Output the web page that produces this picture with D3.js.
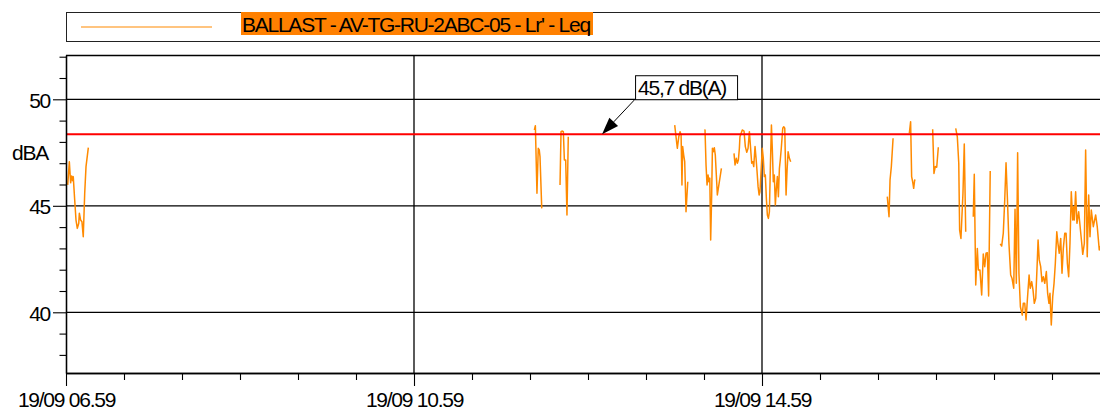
<!DOCTYPE html>
<html><head><meta charset="utf-8">
<script src="https://cdn.jsdelivr.net/npm/d3@7"></script>
<style>
html,body{margin:0;padding:0;background:#fff;}
svg{display:block;font-family:"Liberation Sans",Arial,sans-serif;}
</style></head><body>
<svg id="chart" width="1100" height="410"></svg>
<script>
// ---------- data ----------
const seriesName = "BALLAST - AV-TG-RU-2ABC-05 - Lr' - Leq";
const unitLabel = "dBA";
const startTime = new Date(2019, 8, 19, 6, 59);
const endTime = new Date(2019, 8, 19, 18, 59);
const yDomain = [37.15, 52.08];
const yMajorTicks = [40, 45, 50];
const yMinorTicks = [38, 39, 41, 42, 43, 44, 46, 47, 48, 49, 51, 52];
const xMajorTickHours = [0, 4, 8];          // 06.59, 10.59, 14.59
const xMinorStepMinutes = 40;
const thresholdValue = 48.36;
const thresholdLabel = "45,7 dB(A)";
const annotationMinute = 369.7;

// minutes after 19/09 06.59 ; null value = gap in measurement
const leqMinutes = [
  1.2,2.3,3.2,3.9,4.6,5.0,6.0,6.9,7.8,8.8,9.2,10.1,11.0,11.9,12.9,13.8,15.4,
  100,
  323.0,323.7,324.8,325.7,326.4,326.9,328.1,
  334,
  340.7,341.4,342.3,343.0,343.7,344.6,345.5,346.4,
  400,
  419.8,421.6,422.6,423.5,424.2,424.8,425.3,426.0,426.7,427.6,428.8,
  435,
  440.2,440.7,441.4,442.1,442.8,443.3,444.0,444.6,445.3,445.8,446.4,447.1,447.8,448.5,449.2,450.6,452.0,
  456,
  460.7,461.4,462.3,463.0,463.7,464.4,464.8,466.4,467.6,468.5,469.5,470.4,471.3,
  472.9,473.6,474.3,475.2,475.9,476.6,477.3,478.0,478.6,480.2,480.9,481.6,482.3,483.0,483.7,484.4,485.1,485.8,
  486.5,487.1,487.8,488.5,489.2,489.9,490.6,491.3,492.0,492.6,493.3,494.3,495.0,495.7,496.6,497.3,498.0,498.9,499.8,
  530,
  566.4,567.6,568.3,569.2,570.4,
  575,
  581.6,582.5,583.2,583.9,584.6,585.3,585.8,
  590,
  597.7,598.6,599.5,600.5,601.6,
  608,
  613.6,614.7,615.7,616.3,617.2,618.6,619.5,620.5,
  623,
  625.7,626.4,627.4,628.5,629.2,630.3,631.5,632.6,633.6,634.5,635.4,636.3,637.4,
  640,
  644.3,645.3,646.4,647.4,648.3,649.2,650.3,651.5,652.4,653.6,654.5,655.4,656.3,657.2,658.2,659.5,660.2,661.2,
  662.1,663.0,664.2,665.0,666.0,666.9,667.8,668.8,669.7,670.4,671.2,672.2,673.1,674.0,675.0,676.1,677.0,677.9,
  678.6,679.5,680.5,681.4,682.3,683.3,684.1,685.0,686.0,686.9,687.8,688.8,689.7,690.6,691.5,692.4,693.3,694.3,
  695.0,695.4,696.3,697.2,698.4,700.5,701.2,702.3,703.2,704.3,705.3,706.2,707.1,708.5,710.1,711.2,712.6,713.8
];
const leqValues = [
  45.98,47.07,46.08,46.40,46.18,46.37,45.27,44.33,43.94,44.18,44.65,44.33,44.25,43.55,45.59,46.84,47.73,
  null,
  48.56,48.76,45.59,47.70,47.62,47.31,44.88,
  null,
  45.98,48.48,48.51,48.48,47.15,47.15,44.57,48.24,
  null,
  48.79,47.70,48.24,48.48,48.32,45.98,47.78,47.38,47.07,44.72,46.13,
  null,
  48.56,48.56,46.92,45.98,46.45,46.13,46.30,43.39,45.51,47.70,47.54,47.73,47.38,46.45,45.51,46.13,46.76,
  null,
  47.46,46.92,47.23,47.00,47.15,47.70,48.24,48.56,48.51,47.78,47.51,47.70,48.48,
  47.00,47.07,46.84,47.78,47.23,46.60,45.90,45.51,45.66,47.70,47.23,46.37,46.45,45.35,44.57,44.41,44.72,46.92,
  48.79,47.70,46.13,46.45,45.04,45.82,46.37,45.43,46.76,47.15,47.70,48.64,48.71,48.64,45.51,46.68,47.54,47.23,47.07,
  null,
  45.43,44.49,46.21,46.84,48.17,
  null,
  48.40,48.95,46.37,46.13,45.82,46.21,46.18,
  null,
  48.59,46.52,46.84,46.81,47.75,
  null,
  48.64,48.24,47.00,43.86,43.47,45.59,47.90,43.78,
  null,
  44.49,46.48,41.28,43.00,41.99,41.99,40.81,42.74,42.14,42.77,42.80,40.77,46.63,
  null,
  43.21,43.11,43.71,45.27,47.02,45.43,43.24,41.75,41.60,41.13,44.84,41.36,47.49,41.83,40.26,39.87,40.42,40.42,
  39.64,40.58,41.75,41.13,41.44,41.05,40.42,40.66,42.14,43.39,42.46,42.14,41.44,41.67,41.36,41.91,40.89,40.42,
  40.89,39.40,40.73,41.36,42.30,43.78,43.24,42.77,43.47,41.83,43.00,43.71,43.71,42.30,41.67,43.24,45.66,44.33,
  44.96,44.33,45.66,44.18,44.72,43.24,42.72,43.24,47.62,42.61,45.51,43.55,44.80,44.02,44.57,44.02,42.93,43.16
];

// ---------- layout ----------
const plot = {left: 66, top: 55, right: 1110, bottom: 373};
const FONT = 21, LS = -1.25;
const ORANGE = "#ff8a00";

const svg = d3.select("#chart");
const x = d3.scaleTime().domain([startTime, endTime]).range([plot.left, plot.right]);
const y = d3.scaleLinear().domain(yDomain).range([plot.bottom, plot.top]);
const atMinute = m => new Date(startTime.getTime() + m * 60000);

const data = leqMinutes.map((m, i) => ({t: atMinute(m), v: leqValues[i]}));

svg.append("defs").append("clipPath").attr("id", "clip")
  .append("rect").attr("x", plot.left).attr("y", plot.top)
  .attr("width", plot.right - plot.left).attr("height", plot.bottom - plot.top);

// ---------- legend ----------
const lg = svg.append("g");
lg.append("rect").attr("x", 66.5).attr("y", 12.5).attr("width", 1100).attr("height", 29)
  .attr("fill", "#fff").attr("stroke", "#222").attr("stroke-width", 1);
lg.append("line").attr("x1", 81).attr("x2", 212).attr("y1", 27).attr("y2", 27)
  .attr("stroke", ORANGE).attr("stroke-width", 1.2);
lg.append("rect").attr("x", 241).attr("y", 12).attr("width", 352).attr("height", 23).attr("fill", "#ff8000");
lg.append("text").attr("x", 242).attr("y", 31.7).attr("font-size", FONT).attr("letter-spacing", LS)
  .attr("fill", "#000").text(seriesName);

// ---------- grid ----------
const majorDates = xMajorTickHours.map(h => atMinute(h * 60));
const minorDates = d3.range(0, 12 * 60 + 1, xMinorStepMinutes).map(atMinute)
  .filter(d => !majorDates.some(m => +m === +d));

const grid = svg.append("g").attr("clip-path", "url(#clip)");
grid.selectAll(".hg").data(yMajorTicks).join("line")
  .attr("x1", plot.left).attr("x2", plot.right)
  .attr("y1", d => y(d)).attr("y2", d => y(d))
  .attr("stroke", "#000").attr("stroke-width", 1.3);
grid.selectAll(".vg").data(majorDates.slice(1)).join("line")
  .attr("x1", d => x(d)).attr("x2", d => x(d))
  .attr("y1", plot.top).attr("y2", plot.bottom)
  .attr("stroke", "#000").attr("stroke-width", 1.3);

// top border
svg.append("line").attr("x1", plot.left).attr("x2", plot.right)
  .attr("y1", plot.top + 0.5).attr("y2", plot.top + 0.5).attr("stroke", "#000").attr("stroke-width", 1.3);

// ---------- series ----------
const line = d3.line().defined(d => d.v != null).x(d => x(d.t)).y(d => y(d.v));
svg.append("path").datum(data).attr("clip-path", "url(#clip)")
  .attr("d", line).attr("fill", "none").attr("stroke", ORANGE)
  .attr("stroke-width", 1.5).attr("stroke-linejoin", "round");

// threshold
svg.append("line").attr("clip-path", "url(#clip)")
  .attr("x1", plot.left).attr("x2", plot.right)
  .attr("y1", y(thresholdValue)).attr("y2", y(thresholdValue))
  .attr("stroke", "#ff0000").attr("stroke-width", 1.8);

// ---------- axes ----------
function styleAxis(g) {
  g.attr("color", "#000");
  g.selectAll("line").attr("stroke-width", 1.1);
  g.select(".domain").attr("stroke-width", 1.3);
  g.selectAll("text").attr("font-size", FONT).attr("letter-spacing", LS)
    .attr("font-family", "'Liberation Sans', Arial, sans-serif").attr("fill", "#000");
}
const yAxisMinor = svg.append("g").attr("transform", `translate(${plot.left},0)`)
  .call(d3.axisLeft(y).tickValues(yMinorTicks).tickSize(6.5).tickSizeOuter(0).tickFormat(""));
styleAxis(yAxisMinor);
const yAxis = svg.append("g").attr("transform", `translate(${plot.left},0)`)
  .call(d3.axisLeft(y).tickValues(yMajorTicks).tickSize(13).tickPadding(3).tickSizeOuter(0).tickFormat(d3.format("d")));
styleAxis(yAxis);
yAxis.selectAll("text").attr("dy", "0.38em");

const xAxisMinor = svg.append("g").attr("transform", `translate(0,${plot.bottom})`)
  .call(d3.axisBottom(x).tickValues(minorDates).tickSize(7).tickSizeOuter(0).tickFormat(""));
styleAxis(xAxisMinor);
const xAxis = svg.append("g").attr("transform", `translate(0,${plot.bottom})`)
  .call(d3.axisBottom(x).tickValues(majorDates).tickSize(13).tickPadding(6).tickSizeOuter(0)
    .tickFormat(d3.timeFormat("%d/%m %H.%M")));
styleAxis(xAxis);

svg.append("text").attr("x", 12).attr("y", 160).attr("font-size", FONT).attr("letter-spacing", LS)
  .attr("fill", "#000").text(unitLabel);

// ---------- annotation ----------
const tipX = x(atMinute(annotationMinute)), tipY = y(thresholdValue);
const boxX = tipX + 33, boxY = tipY - 59, boxW = 102, boxH = 24;
const ann = svg.append("g");
const ax0 = boxX, ay0 = boxY + boxH;
const ang = Math.atan2(tipY - ay0, tipX - ax0);
const headL = 17, headW = 6;
const bx = tipX - headL * Math.cos(ang), by = tipY - headL * Math.sin(ang);
ann.append("line").attr("x1", ax0).attr("y1", ay0).attr("x2", bx).attr("y2", by)
  .attr("stroke", "#000").attr("stroke-width", 1);
ann.append("path").attr("d", d3.line()([
  [tipX, tipY],
  [bx + headW * Math.sin(ang), by - headW * Math.cos(ang)],
  [bx - headW * Math.sin(ang), by + headW * Math.cos(ang)]
]) + "Z").attr("fill", "#000");
ann.append("rect").attr("x", boxX + 0.5).attr("y", boxY + 0.5).attr("width", boxW).attr("height", boxH)
  .attr("fill", "#fff").attr("stroke", "#000").attr("stroke-width", 1);
ann.append("text").attr("x", boxX + 3).attr("y", boxY + 19.5).attr("font-size", FONT).attr("letter-spacing", LS)
  .attr("fill", "#000").text(thresholdLabel);
</script>
</body></html>
